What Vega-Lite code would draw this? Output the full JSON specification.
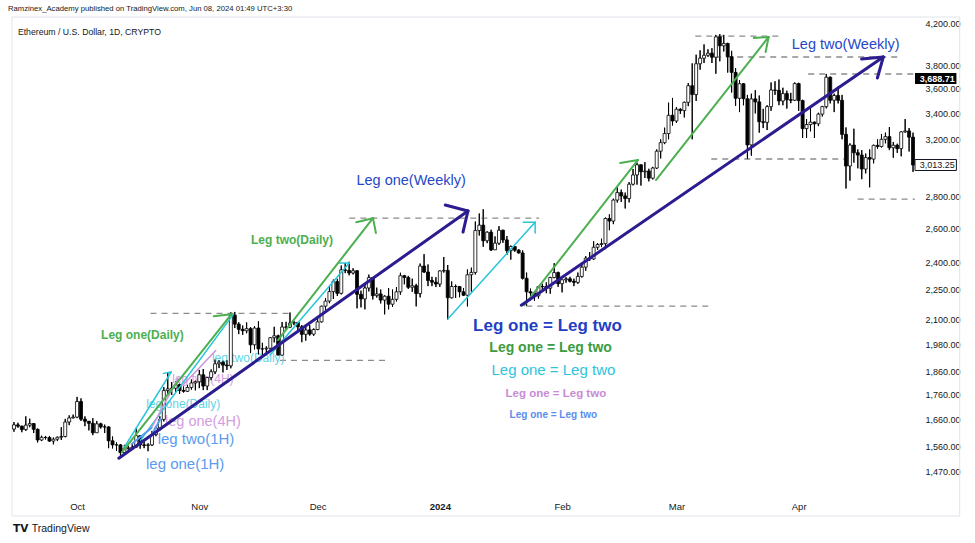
{
  "$schema": "https://vega.github.io/schema/vega-lite/v6.json",
  "width": 913,
  "height": 472,
  "autosize": "none",
  "padding": {"left": 7, "top": 20, "right": 55, "bottom": 51},
  "background": "#ffffff",
  "title": {
    "text": "Ramzinex_Academy published on TradingView.com, Jun 08, 2024 01:49 UTC+3:30",
    "anchor": "start",
    "frame": "group",
    "font": "Liberation Sans",
    "fontSize": 7.7,
    "fontWeight": "normal",
    "color": "#131722",
    "offset": 4,
    "dx": 1
  },
  "datasets": {
    "candles": [
      {"d": "2023-09-15", "o": 1625, "h": 1652, "l": 1615, "c": 1641},
      {"d": "2023-09-16", "o": 1641, "h": 1649, "l": 1630, "c": 1636},
      {"d": "2023-09-17", "o": 1636, "h": 1638, "l": 1613, "c": 1623},
      {"d": "2023-09-18", "o": 1623, "h": 1674, "l": 1618, "c": 1640},
      {"d": "2023-09-19", "o": 1640, "h": 1665, "l": 1632, "c": 1646},
      {"d": "2023-09-20", "o": 1646, "h": 1648, "l": 1610, "c": 1624},
      {"d": "2023-09-21", "o": 1624, "h": 1627, "l": 1575, "c": 1584},
      {"d": "2023-09-22", "o": 1584, "h": 1600, "l": 1580, "c": 1594},
      {"d": "2023-09-23", "o": 1594, "h": 1599, "l": 1586, "c": 1593},
      {"d": "2023-09-24", "o": 1593, "h": 1599, "l": 1577, "c": 1580},
      {"d": "2023-09-25", "o": 1580, "h": 1593, "l": 1568, "c": 1587},
      {"d": "2023-09-26", "o": 1587, "h": 1597, "l": 1580, "c": 1594},
      {"d": "2023-09-27", "o": 1594, "h": 1632, "l": 1584, "c": 1597},
      {"d": "2023-09-28", "o": 1597, "h": 1664, "l": 1594, "c": 1652},
      {"d": "2023-09-29", "o": 1652, "h": 1678, "l": 1640, "c": 1668},
      {"d": "2023-09-30", "o": 1668, "h": 1681, "l": 1666, "c": 1671},
      {"d": "2023-10-01", "o": 1671, "h": 1752, "l": 1667, "c": 1733},
      {"d": "2023-10-02", "o": 1733, "h": 1746, "l": 1656, "c": 1663},
      {"d": "2023-10-03", "o": 1663, "h": 1674, "l": 1636, "c": 1655},
      {"d": "2023-10-04", "o": 1655, "h": 1656, "l": 1620, "c": 1647},
      {"d": "2023-10-05", "o": 1647, "h": 1667, "l": 1602, "c": 1611},
      {"d": "2023-10-06", "o": 1611, "h": 1656, "l": 1611, "c": 1645},
      {"d": "2023-10-07", "o": 1645, "h": 1649, "l": 1627, "c": 1633},
      {"d": "2023-10-08", "o": 1633, "h": 1642, "l": 1610, "c": 1633},
      {"d": "2023-10-09", "o": 1633, "h": 1636, "l": 1554, "c": 1581},
      {"d": "2023-10-10", "o": 1581, "h": 1597, "l": 1553, "c": 1566},
      {"d": "2023-10-11", "o": 1566, "h": 1575, "l": 1544, "c": 1566},
      {"d": "2023-10-12", "o": 1566, "h": 1569, "l": 1521, "c": 1538},
      {"d": "2023-10-13", "o": 1538, "h": 1566, "l": 1534, "c": 1553},
      {"d": "2023-10-14", "o": 1553, "h": 1563, "l": 1546, "c": 1555},
      {"d": "2023-10-15", "o": 1555, "h": 1569, "l": 1549, "c": 1558},
      {"d": "2023-10-16", "o": 1558, "h": 1630, "l": 1556, "c": 1600},
      {"d": "2023-10-17", "o": 1600, "h": 1601, "l": 1552, "c": 1566},
      {"d": "2023-10-18", "o": 1566, "h": 1585, "l": 1554, "c": 1564},
      {"d": "2023-10-19", "o": 1564, "h": 1572, "l": 1543, "c": 1566},
      {"d": "2023-10-20", "o": 1566, "h": 1618, "l": 1562, "c": 1604},
      {"d": "2023-10-21", "o": 1604, "h": 1636, "l": 1598, "c": 1629},
      {"d": "2023-10-22", "o": 1629, "h": 1674, "l": 1620, "c": 1662},
      {"d": "2023-10-23", "o": 1662, "h": 1792, "l": 1654, "c": 1778},
      {"d": "2023-10-24", "o": 1778, "h": 1856, "l": 1765, "c": 1785},
      {"d": "2023-10-25", "o": 1785, "h": 1814, "l": 1760, "c": 1788},
      {"d": "2023-10-26", "o": 1788, "h": 1818, "l": 1770, "c": 1803},
      {"d": "2023-10-27", "o": 1803, "h": 1807, "l": 1764, "c": 1779},
      {"d": "2023-10-28", "o": 1779, "h": 1795, "l": 1770, "c": 1775},
      {"d": "2023-10-29", "o": 1775, "h": 1802, "l": 1773, "c": 1791},
      {"d": "2023-10-30", "o": 1791, "h": 1825, "l": 1782, "c": 1810},
      {"d": "2023-10-31", "o": 1810, "h": 1820, "l": 1779, "c": 1815},
      {"d": "2023-11-01", "o": 1815, "h": 1866, "l": 1788, "c": 1845},
      {"d": "2023-11-02", "o": 1845, "h": 1870, "l": 1780, "c": 1797},
      {"d": "2023-11-03", "o": 1797, "h": 1834, "l": 1780, "c": 1833},
      {"d": "2023-11-04", "o": 1833, "h": 1868, "l": 1822, "c": 1858},
      {"d": "2023-11-05", "o": 1858, "h": 1912, "l": 1848, "c": 1893},
      {"d": "2023-11-06", "o": 1893, "h": 1910, "l": 1874, "c": 1900},
      {"d": "2023-11-07", "o": 1900, "h": 1907, "l": 1855, "c": 1887},
      {"d": "2023-11-08", "o": 1887, "h": 1909, "l": 1866, "c": 1884},
      {"d": "2023-11-09", "o": 1884, "h": 2135, "l": 1873, "c": 2121},
      {"d": "2023-11-10", "o": 2121, "h": 2137, "l": 2058, "c": 2077},
      {"d": "2023-11-11", "o": 2077, "h": 2086, "l": 2029, "c": 2052},
      {"d": "2023-11-12", "o": 2052, "h": 2070, "l": 2025, "c": 2045},
      {"d": "2023-11-13", "o": 2045, "h": 2085, "l": 2033, "c": 2055},
      {"d": "2023-11-14", "o": 2055, "h": 2063, "l": 1941, "c": 1979},
      {"d": "2023-11-15", "o": 1979, "h": 2067, "l": 1958, "c": 2058},
      {"d": "2023-11-16", "o": 2058, "h": 2091, "l": 1935, "c": 1960},
      {"d": "2023-11-17", "o": 1960, "h": 1988, "l": 1932, "c": 1960},
      {"d": "2023-11-18", "o": 1960, "h": 1972, "l": 1935, "c": 1963},
      {"d": "2023-11-19", "o": 1963, "h": 2015, "l": 1946, "c": 2012},
      {"d": "2023-11-20", "o": 2012, "h": 2064, "l": 1990, "c": 2021},
      {"d": "2023-11-21", "o": 2021, "h": 2026, "l": 1931, "c": 1932},
      {"d": "2023-11-22", "o": 1932, "h": 2087, "l": 1930, "c": 2063},
      {"d": "2023-11-23", "o": 2063, "h": 2088, "l": 2050, "c": 2062},
      {"d": "2023-11-24", "o": 2062, "h": 2134, "l": 2058, "c": 2082},
      {"d": "2023-11-25", "o": 2082, "h": 2093, "l": 2072, "c": 2085},
      {"d": "2023-11-26", "o": 2085, "h": 2087, "l": 2040, "c": 2064},
      {"d": "2023-11-27", "o": 2064, "h": 2072, "l": 1991, "c": 2028},
      {"d": "2023-11-28", "o": 2028, "h": 2066, "l": 1998, "c": 2049},
      {"d": "2023-11-29", "o": 2049, "h": 2072, "l": 2022, "c": 2029},
      {"d": "2023-11-30", "o": 2029, "h": 2056, "l": 2021, "c": 2051},
      {"d": "2023-12-01", "o": 2051, "h": 2105, "l": 2048, "c": 2088},
      {"d": "2023-12-02", "o": 2088, "h": 2168, "l": 2085, "c": 2166},
      {"d": "2023-12-03", "o": 2166, "h": 2208, "l": 2148, "c": 2192},
      {"d": "2023-12-04", "o": 2192, "h": 2273, "l": 2181, "c": 2241},
      {"d": "2023-12-05", "o": 2241, "h": 2305, "l": 2203, "c": 2294},
      {"d": "2023-12-06", "o": 2294, "h": 2309, "l": 2218, "c": 2232},
      {"d": "2023-12-07", "o": 2232, "h": 2382, "l": 2226, "c": 2358},
      {"d": "2023-12-08", "o": 2358, "h": 2396, "l": 2340, "c": 2355},
      {"d": "2023-12-09", "o": 2355, "h": 2403, "l": 2328, "c": 2341},
      {"d": "2023-12-10", "o": 2341, "h": 2367, "l": 2333, "c": 2353},
      {"d": "2023-12-11", "o": 2353, "h": 2356, "l": 2155, "c": 2227},
      {"d": "2023-12-12", "o": 2227, "h": 2246, "l": 2160, "c": 2203},
      {"d": "2023-12-13", "o": 2203, "h": 2281, "l": 2150, "c": 2260},
      {"d": "2023-12-14", "o": 2260, "h": 2332, "l": 2242, "c": 2316},
      {"d": "2023-12-15", "o": 2316, "h": 2318, "l": 2200, "c": 2220},
      {"d": "2023-12-16", "o": 2220, "h": 2262, "l": 2210, "c": 2229},
      {"d": "2023-12-17", "o": 2229, "h": 2252, "l": 2180, "c": 2197},
      {"d": "2023-12-18", "o": 2197, "h": 2222, "l": 2125, "c": 2217},
      {"d": "2023-12-19", "o": 2217, "h": 2260, "l": 2150, "c": 2176},
      {"d": "2023-12-20", "o": 2176, "h": 2252, "l": 2162, "c": 2201},
      {"d": "2023-12-21", "o": 2201, "h": 2265, "l": 2190, "c": 2240},
      {"d": "2023-12-22", "o": 2240, "h": 2342, "l": 2225, "c": 2326},
      {"d": "2023-12-23", "o": 2326, "h": 2330, "l": 2280, "c": 2316},
      {"d": "2023-12-24", "o": 2316, "h": 2325, "l": 2255, "c": 2264},
      {"d": "2023-12-25", "o": 2264, "h": 2310, "l": 2240, "c": 2272},
      {"d": "2023-12-26", "o": 2272, "h": 2282, "l": 2165, "c": 2231},
      {"d": "2023-12-27", "o": 2231, "h": 2393, "l": 2211, "c": 2379},
      {"d": "2023-12-28", "o": 2379, "h": 2446, "l": 2341, "c": 2346},
      {"d": "2023-12-29", "o": 2346, "h": 2388, "l": 2270, "c": 2300},
      {"d": "2023-12-30", "o": 2300, "h": 2320, "l": 2270, "c": 2291},
      {"d": "2023-12-31", "o": 2291, "h": 2318, "l": 2265, "c": 2281},
      {"d": "2024-01-01", "o": 2281, "h": 2355, "l": 2266, "c": 2352},
      {"d": "2024-01-02", "o": 2352, "h": 2430, "l": 2343, "c": 2355},
      {"d": "2024-01-03", "o": 2355, "h": 2385, "l": 2100, "c": 2209},
      {"d": "2024-01-04", "o": 2209, "h": 2295, "l": 2206, "c": 2268},
      {"d": "2024-01-05", "o": 2268, "h": 2278, "l": 2208, "c": 2268},
      {"d": "2024-01-06", "o": 2268, "h": 2270, "l": 2212, "c": 2240},
      {"d": "2024-01-07", "o": 2240, "h": 2260, "l": 2218, "c": 2222},
      {"d": "2024-01-08", "o": 2222, "h": 2360, "l": 2165, "c": 2331},
      {"d": "2024-01-09", "o": 2331, "h": 2370, "l": 2240, "c": 2344},
      {"d": "2024-01-10", "o": 2344, "h": 2640, "l": 2333, "c": 2585},
      {"d": "2024-01-11", "o": 2585, "h": 2690, "l": 2555, "c": 2618},
      {"d": "2024-01-12", "o": 2618, "h": 2717, "l": 2489, "c": 2524},
      {"d": "2024-01-13", "o": 2524, "h": 2580, "l": 2510, "c": 2575},
      {"d": "2024-01-14", "o": 2575, "h": 2590, "l": 2464, "c": 2471},
      {"d": "2024-01-15", "o": 2471, "h": 2550, "l": 2470, "c": 2510},
      {"d": "2024-01-16", "o": 2510, "h": 2612, "l": 2500, "c": 2587},
      {"d": "2024-01-17", "o": 2587, "h": 2590, "l": 2512, "c": 2529},
      {"d": "2024-01-18", "o": 2529, "h": 2552, "l": 2442, "c": 2467},
      {"d": "2024-01-19", "o": 2467, "h": 2496, "l": 2415, "c": 2490},
      {"d": "2024-01-20", "o": 2490, "h": 2492, "l": 2460, "c": 2469},
      {"d": "2024-01-21", "o": 2469, "h": 2475, "l": 2450, "c": 2453},
      {"d": "2024-01-22", "o": 2453, "h": 2468, "l": 2306, "c": 2312},
      {"d": "2024-01-23", "o": 2312, "h": 2343, "l": 2168, "c": 2240},
      {"d": "2024-01-24", "o": 2240, "h": 2257, "l": 2196, "c": 2234},
      {"d": "2024-01-25", "o": 2234, "h": 2240, "l": 2194, "c": 2219},
      {"d": "2024-01-26", "o": 2219, "h": 2271, "l": 2205, "c": 2267},
      {"d": "2024-01-27", "o": 2267, "h": 2282, "l": 2249, "c": 2268},
      {"d": "2024-01-28", "o": 2268, "h": 2290, "l": 2233, "c": 2259},
      {"d": "2024-01-29", "o": 2259, "h": 2320, "l": 2230, "c": 2316},
      {"d": "2024-01-30", "o": 2316, "h": 2395, "l": 2312, "c": 2343},
      {"d": "2024-01-31", "o": 2343, "h": 2348, "l": 2266, "c": 2283},
      {"d": "2024-02-01", "o": 2283, "h": 2305, "l": 2237, "c": 2304},
      {"d": "2024-02-02", "o": 2304, "h": 2318, "l": 2288, "c": 2309},
      {"d": "2024-02-03", "o": 2309, "h": 2320, "l": 2290, "c": 2296},
      {"d": "2024-02-04", "o": 2296, "h": 2310, "l": 2270, "c": 2290},
      {"d": "2024-02-05", "o": 2290, "h": 2343, "l": 2282, "c": 2322},
      {"d": "2024-02-06", "o": 2322, "h": 2398, "l": 2316, "c": 2373},
      {"d": "2024-02-07", "o": 2373, "h": 2435, "l": 2353, "c": 2424},
      {"d": "2024-02-08", "o": 2424, "h": 2458, "l": 2408, "c": 2419},
      {"d": "2024-02-09", "o": 2419, "h": 2521, "l": 2414, "c": 2486},
      {"d": "2024-02-10", "o": 2486, "h": 2510, "l": 2470, "c": 2502},
      {"d": "2024-02-11", "o": 2502, "h": 2536, "l": 2487, "c": 2507},
      {"d": "2024-02-12", "o": 2507, "h": 2665, "l": 2475, "c": 2659},
      {"d": "2024-02-13", "o": 2659, "h": 2685, "l": 2587, "c": 2643},
      {"d": "2024-02-14", "o": 2643, "h": 2785, "l": 2624, "c": 2776},
      {"d": "2024-02-15", "o": 2776, "h": 2865, "l": 2760, "c": 2825},
      {"d": "2024-02-16", "o": 2825, "h": 2845, "l": 2764, "c": 2803},
      {"d": "2024-02-17", "o": 2803, "h": 2825, "l": 2722, "c": 2786},
      {"d": "2024-02-18", "o": 2786, "h": 2895, "l": 2761, "c": 2881},
      {"d": "2024-02-19", "o": 2881, "h": 2985, "l": 2873, "c": 2944},
      {"d": "2024-02-20", "o": 2944, "h": 3030, "l": 2878, "c": 3015},
      {"d": "2024-02-21", "o": 3015, "h": 3016, "l": 2872, "c": 2966},
      {"d": "2024-02-22", "o": 2966, "h": 3034, "l": 2923, "c": 2971},
      {"d": "2024-02-23", "o": 2971, "h": 2987, "l": 2900, "c": 2922},
      {"d": "2024-02-24", "o": 2922, "h": 3000, "l": 2913, "c": 2992},
      {"d": "2024-02-25", "o": 2992, "h": 3125, "l": 2985, "c": 3112},
      {"d": "2024-02-26", "o": 3112, "h": 3200, "l": 3060, "c": 3175},
      {"d": "2024-02-27", "o": 3175, "h": 3288, "l": 3164, "c": 3243},
      {"d": "2024-02-28", "o": 3243, "h": 3486, "l": 3200, "c": 3385},
      {"d": "2024-02-29", "o": 3385, "h": 3525, "l": 3305, "c": 3340},
      {"d": "2024-03-01", "o": 3340, "h": 3450, "l": 3325, "c": 3433},
      {"d": "2024-03-02", "o": 3433, "h": 3440, "l": 3395, "c": 3422},
      {"d": "2024-03-03", "o": 3422, "h": 3495, "l": 3368, "c": 3489},
      {"d": "2024-03-04", "o": 3489, "h": 3650, "l": 3458, "c": 3627},
      {"d": "2024-03-05", "o": 3627, "h": 3822, "l": 3200, "c": 3553},
      {"d": "2024-03-06", "o": 3553, "h": 3900, "l": 3500, "c": 3818},
      {"d": "2024-03-07", "o": 3818, "h": 3940, "l": 3765, "c": 3868},
      {"d": "2024-03-08", "o": 3868, "h": 3995, "l": 3825, "c": 3895},
      {"d": "2024-03-09", "o": 3895, "h": 3950, "l": 3880, "c": 3914},
      {"d": "2024-03-10", "o": 3914, "h": 3960, "l": 3825, "c": 3877},
      {"d": "2024-03-11", "o": 3877, "h": 4085, "l": 3730, "c": 4066},
      {"d": "2024-03-12", "o": 4066, "h": 4093, "l": 3840, "c": 3982},
      {"d": "2024-03-13", "o": 3982, "h": 4085, "l": 3930, "c": 4004},
      {"d": "2024-03-14", "o": 4004, "h": 4010, "l": 3740, "c": 3882},
      {"d": "2024-03-15", "o": 3882, "h": 3935, "l": 3570, "c": 3742},
      {"d": "2024-03-16", "o": 3742, "h": 3780, "l": 3460, "c": 3522},
      {"d": "2024-03-17", "o": 3522, "h": 3675, "l": 3410, "c": 3644},
      {"d": "2024-03-18", "o": 3644, "h": 3650, "l": 3465, "c": 3518},
      {"d": "2024-03-19", "o": 3518, "h": 3550, "l": 3056, "c": 3158},
      {"d": "2024-03-20", "o": 3158, "h": 3560, "l": 3080, "c": 3517},
      {"d": "2024-03-21", "o": 3517, "h": 3590, "l": 3400, "c": 3492},
      {"d": "2024-03-22", "o": 3492, "h": 3545, "l": 3250, "c": 3334},
      {"d": "2024-03-23", "o": 3334, "h": 3436, "l": 3285, "c": 3329},
      {"d": "2024-03-24", "o": 3329, "h": 3465, "l": 3270, "c": 3454},
      {"d": "2024-03-25", "o": 3454, "h": 3655, "l": 3420, "c": 3591},
      {"d": "2024-03-26", "o": 3591, "h": 3665, "l": 3550, "c": 3588},
      {"d": "2024-03-27", "o": 3588, "h": 3680, "l": 3466, "c": 3500},
      {"d": "2024-03-28", "o": 3500, "h": 3610, "l": 3465, "c": 3561},
      {"d": "2024-03-29", "o": 3561, "h": 3585, "l": 3438, "c": 3510},
      {"d": "2024-03-30", "o": 3510, "h": 3567, "l": 3482, "c": 3506},
      {"d": "2024-03-31", "o": 3506, "h": 3655, "l": 3500, "c": 3645},
      {"d": "2024-04-01", "o": 3645, "h": 3652, "l": 3420, "c": 3503},
      {"d": "2024-04-02", "o": 3503, "h": 3510, "l": 3210, "c": 3281},
      {"d": "2024-04-03", "o": 3281, "h": 3355, "l": 3210, "c": 3312},
      {"d": "2024-04-04", "o": 3312, "h": 3440, "l": 3260, "c": 3331},
      {"d": "2024-04-05", "o": 3331, "h": 3335, "l": 3210, "c": 3318},
      {"d": "2024-04-06", "o": 3318, "h": 3405, "l": 3300, "c": 3394},
      {"d": "2024-04-07", "o": 3394, "h": 3460, "l": 3375, "c": 3454},
      {"d": "2024-04-08", "o": 3454, "h": 3728, "l": 3440, "c": 3700},
      {"d": "2024-04-09", "o": 3700, "h": 3705, "l": 3480, "c": 3506},
      {"d": "2024-04-10", "o": 3506, "h": 3560, "l": 3410, "c": 3545},
      {"d": "2024-04-11", "o": 3545, "h": 3620, "l": 3480, "c": 3505},
      {"d": "2024-04-12", "o": 3505, "h": 3550, "l": 3200, "c": 3237},
      {"d": "2024-04-13", "o": 3237, "h": 3290, "l": 2852, "c": 3006},
      {"d": "2024-04-14", "o": 3006, "h": 3170, "l": 2905, "c": 3157},
      {"d": "2024-04-15", "o": 3157, "h": 3280, "l": 3030, "c": 3101},
      {"d": "2024-04-16", "o": 3101, "h": 3125, "l": 2990, "c": 3084},
      {"d": "2024-04-17", "o": 3084, "h": 3120, "l": 2915, "c": 2985},
      {"d": "2024-04-18", "o": 2985, "h": 3095, "l": 2955, "c": 3066},
      {"d": "2024-04-19", "o": 3066, "h": 3125, "l": 2860, "c": 3055},
      {"d": "2024-04-20", "o": 3055, "h": 3160, "l": 3025, "c": 3155},
      {"d": "2024-04-21", "o": 3155, "h": 3200, "l": 3130, "c": 3146},
      {"d": "2024-04-22", "o": 3146, "h": 3240, "l": 3140, "c": 3200},
      {"d": "2024-04-23", "o": 3200, "h": 3250, "l": 3170, "c": 3220},
      {"d": "2024-04-24", "o": 3220, "h": 3293, "l": 3120, "c": 3137},
      {"d": "2024-04-25", "o": 3137, "h": 3180, "l": 3065, "c": 3156},
      {"d": "2024-04-26", "o": 3156, "h": 3167, "l": 3100, "c": 3131},
      {"d": "2024-04-27", "o": 3131, "h": 3260, "l": 3075, "c": 3256},
      {"d": "2024-04-28", "o": 3256, "h": 3355, "l": 3250, "c": 3263},
      {"d": "2024-04-29", "o": 3263, "h": 3285, "l": 3110, "c": 3216},
      {"d": "2024-04-30", "o": 3216, "h": 3250, "l": 2965, "c": 3013.25}
    ],
    "levels": [
      {"t1": "2023-10-19T15:00:00Z", "t2": "2023-11-24T00:00:00Z", "p": 2130},
      {"t1": "2023-11-21T11:00:00Z", "t2": "2023-12-19T01:00:00Z", "p": 1908},
      {"t1": "2023-12-09T01:00:00Z", "t2": "2024-01-26T04:00:00Z", "p": 2661},
      {"t1": "2024-01-22T22:00:00Z", "t2": "2024-03-10T08:00:00Z", "p": 2166},
      {"t1": "2024-03-05T19:00:00Z", "t2": "2024-03-27T15:00:00Z", "p": 4074},
      {"t1": "2024-03-10T20:00:00Z", "t2": "2024-04-26T18:00:00Z", "p": 3879},
      {"t1": "2024-04-03T10:00:00Z", "t2": "2024-04-30T12:00:00Z", "p": 3728},
      {"t1": "2024-03-09T20:00:00Z", "t2": "2024-04-12T23:00:00Z", "p": 3056},
      {"t1": "2024-04-15T23:00:00Z", "t2": "2024-04-30T12:00:00Z", "p": 2782}
    ],
    "weekly": [
      {"t1": "2023-10-11T14:00:00Z", "p1": 1518, "t2": "2024-01-08T03:00:00Z", "p2": 2706},
      {"t1": "2024-01-08T03:00:00Z", "p1": 2706, "t2": "2024-01-02T09:00:00Z", "p2": 2744},
      {"t1": "2024-01-08T03:00:00Z", "p1": 2706, "t2": "2024-01-06T21:00:00Z", "p2": 2576},
      {"t1": "2024-01-21T16:00:00Z", "p1": 2171, "t2": "2024-04-22T11:00:00Z", "p2": 3879},
      {"t1": "2024-04-22T11:00:00Z", "p1": 3879, "t2": "2024-04-16T23:00:00Z", "p2": 3861},
      {"t1": "2024-04-22T11:00:00Z", "p1": 3879, "t2": "2024-04-20T23:00:00Z", "p2": 3693}
    ],
    "daily": [
      {"t1": "2023-10-12T08:00:00Z", "p1": 1539, "t2": "2023-11-09T04:00:00Z", "p2": 2126},
      {"t1": "2023-11-09T04:00:00Z", "p1": 2126, "t2": "2023-11-04T16:00:00Z", "p2": 2116},
      {"t1": "2023-11-20T23:00:00Z", "p1": 2001, "t2": "2023-12-15T01:00:00Z", "p2": 2661},
      {"t1": "2023-12-15T01:00:00Z", "p1": 2661, "t2": "2023-12-10T19:00:00Z", "p2": 2636},
      {"t1": "2023-12-15T01:00:00Z", "p1": 2661, "t2": "2023-12-15T19:00:00Z", "p2": 2570},
      {"t1": "2024-01-22T10:00:00Z", "p1": 2171, "t2": "2024-02-20T06:00:00Z", "p2": 3049},
      {"t1": "2024-02-20T06:00:00Z", "p1": 3049, "t2": "2024-02-15T18:00:00Z", "p2": 3027},
      {"t1": "2024-02-24T19:00:00Z", "p1": 2909, "t2": "2024-03-24T09:00:00Z", "p2": 4065},
      {"t1": "2024-03-24T09:00:00Z", "p1": 4065, "t2": "2024-03-20T15:00:00Z", "p2": 4055},
      {"t1": "2024-03-24T09:00:00Z", "p1": 4065, "t2": "2024-03-23T15:00:00Z", "p2": 3925}
    ],
    "cyan": [
      {"t1": "2023-10-12T20:00:00Z", "p1": 1554, "t2": "2023-10-24T21:00:00Z", "p2": 1857},
      {"t1": "2023-10-24T21:00:00Z", "p1": 1857, "t2": "2023-10-22T21:00:00Z", "p2": 1851},
      {"t1": "2023-10-17T02:00:00Z", "p1": 1583, "t2": "2023-11-09T16:00:00Z", "p2": 2126},
      {"t1": "2023-11-18T23:00:00Z", "p1": 1932, "t2": "2023-12-09T01:00:00Z", "p2": 2396},
      {"t1": "2023-12-09T01:00:00Z", "p1": 2396, "t2": "2023-12-06T12:00:00Z", "p2": 2396},
      {"t1": "2024-01-03T03:00:00Z", "p1": 2105, "t2": "2024-01-25T04:00:00Z", "p2": 2636},
      {"t1": "2024-01-25T04:00:00Z", "p1": 2636, "t2": "2024-01-22T04:00:00Z", "p2": 2636},
      {"t1": "2024-01-25T04:00:00Z", "p1": 2636, "t2": "2024-01-25T04:00:00Z", "p2": 2570}
    ],
    "h4": [
      {"t1": "2023-10-19T21:00:00Z", "p1": 1629, "t2": "2023-10-26T15:00:00Z", "p2": 1831},
      {"t1": "2023-10-27T21:00:00Z", "p1": 1801, "t2": "2023-11-05T04:00:00Z", "p2": 1953}
    ],
    "h1": [
      {"t1": "2023-10-14T20:00:00Z", "p1": 1569, "t2": "2023-10-19T21:00:00Z", "p2": 1629},
      {"t1": "2023-10-19T15:00:00Z", "p1": 1595, "t2": "2023-10-22T03:00:00Z", "p2": 1664}
    ]
  },
  "layer": [
    {
      "data": {"name": "candles"},
      "mark": {"type": "rule", "color": "#000000", "strokeWidth": 1},
      "encoding": {
        "x": {"field": "d", "type": "temporal", "title": null, "axis": {
          "values": [
            {"year": 2023, "month": 10, "date": 1, "utc": true},
            {"year": 2023, "month": 11, "date": 1, "utc": true},
            {"year": 2023, "month": 12, "date": 1, "utc": true},
            {"year": 2024, "month": 1, "date": 1, "utc": true},
            {"year": 2024, "month": 2, "date": 1, "utc": true},
            {"year": 2024, "month": 3, "date": 1, "utc": true},
            {"year": 2024, "month": 4, "date": 1, "utc": true}
          ],
          "labelExpr": "utcFormat(datum.value, '%m') == '01' ? utcFormat(datum.value, '%Y') : utcFormat(datum.value, '%b')",
          "labelFontWeight": {"condition": {"test": "utcFormat(datum.value, '%m') == '01'", "value": "bold"}, "value": "normal"},
          "title": null, "domain": false, "ticks": false, "grid": false,
          "labelPadding": 9, "labelFont": "Liberation Sans", "labelFontSize": 9.5, "labelColor": "#131722"
        },
          "scale": {"type": "utc", "domain": [{"year": 2023, "month": 9, "date": 14, "hours": 12, "utc": true}, {"year": 2024, "month": 4, "date": 30, "hours": 12, "utc": true}]}},
        "y": {"field": "l", "type": "quantitative", "title": null, "axis": {
          "orient": "right",
          "values": [1470, 1560, 1660, 1760, 1860, 1980, 2100, 2250, 2400, 2600, 2800, 3200, 3400, 3600, 3800, 4200],
          "format": ",.2f", "title": null, "domain": false, "ticks": false, "grid": false,
          "labelOverlap": false, "labelPadding": 5, "labelFont": "Liberation Sans", "labelFontSize": 9, "labelColor": "#131722"
        },
          "scale": {"type": "log", "domain": [1402.6, 4229.6], "nice": false}},
        "y2": {"field": "h"}
      }
    },
    {
      "data": {"values": [{"t1": "2023-09-14T12:00:00Z", "t2": "2024-05-11T20:00:00Z", "p1": 4259, "p2": 1326}]},
      "mark": {"type": "rect", "filled": false, "stroke": "#e0e3eb", "strokeWidth": 1},
      "encoding": {
        "x": {"field": "t1", "type": "temporal", "title": null, "scale": {"type": "utc", "domain": [{"year": 2023, "month": 9, "date": 14, "hours": 12, "utc": true}, {"year": 2024, "month": 4, "date": 30, "hours": 12, "utc": true}]}},
        "x2": {"field": "t2"},
        "y": {"field": "p1", "type": "quantitative", "title": null, "scale": {"type": "log", "domain": [1402.6, 4229.6], "nice": false}},
        "y2": {"field": "p2"}
      }
    },
    {
      "data": {"name": "levels"},
      "mark": {"type": "rule", "color": "#8c8c8c", "strokeWidth": 1.3, "strokeDash": [6, 5]},
      "encoding": {
        "x": {"field": "t1", "type": "temporal", "title": null, "scale": {"type": "utc", "domain": [{"year": 2023, "month": 9, "date": 14, "hours": 12, "utc": true}, {"year": 2024, "month": 4, "date": 30, "hours": 12, "utc": true}]}},
        "x2": {"field": "t2"},
        "y": {"field": "p", "type": "quantitative", "title": null, "scale": {"type": "log", "domain": [1402.6, 4229.6], "nice": false}}
      }
    },
    {
      "data": {"values": [
        {"t": "2023-10-27T22:00:00Z", "p": 1724, "label": "leg one(Daily)"},
        {"t": "2023-11-13T10:00:00Z", "p": 1920, "label": "leg two(Daily)"}
      ]},
      "mark": {"type": "text", "font": "Liberation Sans", "fontSize": 12, "color": "#5fd3e3", "align": "center", "baseline": "middle"},
      "encoding": {
        "x": {"field": "t", "type": "temporal", "title": null, "scale": {"type": "utc", "domain": [{"year": 2023, "month": 9, "date": 14, "hours": 12, "utc": true}, {"year": 2024, "month": 4, "date": 30, "hours": 12, "utc": true}]}},
        "y": {"field": "p", "type": "quantitative", "title": null, "scale": {"type": "log", "domain": [1402.6, 4229.6], "nice": false}},
        "text": {"field": "label"}
      }
    },
    {
      "data": {"values": [
        {"t": "2023-11-01T22:00:00Z", "p": 1825, "label": "leg two(4H)"}
      ]},
      "mark": {"type": "text", "font": "Liberation Sans", "fontSize": 12, "color": "#d39de0", "align": "center", "baseline": "middle"},
      "encoding": {
        "x": {"field": "t", "type": "temporal", "title": null, "scale": {"type": "utc", "domain": [{"year": 2023, "month": 9, "date": 14, "hours": 12, "utc": true}, {"year": 2024, "month": 4, "date": 30, "hours": 12, "utc": true}]}},
        "y": {"field": "p", "type": "quantitative", "title": null, "scale": {"type": "log", "domain": [1402.6, 4229.6], "nice": false}},
        "text": {"field": "label"}
      }
    },
    {
      "data": {"values": [
        {"t": "2023-11-01T22:00:00Z", "p": 1652, "label": "leg one(4H)"}
      ]},
      "mark": {"type": "text", "font": "Liberation Sans", "fontSize": 14.5, "color": "#d39de0", "align": "center", "baseline": "middle"},
      "encoding": {
        "x": {"field": "t", "type": "temporal", "title": null, "scale": {"type": "utc", "domain": [{"year": 2023, "month": 9, "date": 14, "hours": 12, "utc": true}, {"year": 2024, "month": 4, "date": 30, "hours": 12, "utc": true}]}},
        "y": {"field": "p", "type": "quantitative", "title": null, "scale": {"type": "log", "domain": [1402.6, 4229.6], "nice": false}},
        "text": {"field": "label"}
      }
    },
    {
      "data": {"name": "candles"},
      "mark": {"type": "rule", "color": "#000000", "strokeWidth": 1},
      "encoding": {
        "x": {"field": "d", "type": "temporal", "title": null, "scale": {"type": "utc", "domain": [{"year": 2023, "month": 9, "date": 14, "hours": 12, "utc": true}, {"year": 2024, "month": 4, "date": 30, "hours": 12, "utc": true}]}},
        "y": {"field": "l", "type": "quantitative", "title": null, "scale": {"type": "log", "domain": [1402.6, 4229.6], "nice": false}},
        "y2": {"field": "h"}
      }
    },
    {
      "data": {"name": "candles"},
      "mark": {"type": "bar", "size": 3, "stroke": "#000000", "strokeWidth": 0.8},
      "encoding": {
        "x": {"field": "d", "type": "temporal", "title": null, "scale": {"type": "utc", "domain": [{"year": 2023, "month": 9, "date": 14, "hours": 12, "utc": true}, {"year": 2024, "month": 4, "date": 30, "hours": 12, "utc": true}]}},
        "y": {"field": "o", "type": "quantitative", "title": null, "scale": {"type": "log", "domain": [1402.6, 4229.6], "nice": false}},
        "y2": {"field": "c"},
        "fill": {"condition": {"test": "datum.c >= datum.o", "value": "#ffffff"}, "value": "#000000"}
      }
    },
    {
      "data": {"name": "cyan"},
      "mark": {"type": "rule", "color": "#26c6da", "strokeWidth": 1.5, "strokeCap": "round"},
      "encoding": {
        "x": {"field": "t1", "type": "temporal", "title": null, "scale": {"type": "utc", "domain": [{"year": 2023, "month": 9, "date": 14, "hours": 12, "utc": true}, {"year": 2024, "month": 4, "date": 30, "hours": 12, "utc": true}]}},
        "x2": {"field": "t2"},
        "y": {"field": "p1", "type": "quantitative", "title": null, "scale": {"type": "log", "domain": [1402.6, 4229.6], "nice": false}},
        "y2": {"field": "p2"}
      }
    },
    {
      "data": {"name": "h4"},
      "mark": {"type": "rule", "color": "#ce93d8", "strokeWidth": 1.5, "strokeCap": "round"},
      "encoding": {
        "x": {"field": "t1", "type": "temporal", "title": null, "scale": {"type": "utc", "domain": [{"year": 2023, "month": 9, "date": 14, "hours": 12, "utc": true}, {"year": 2024, "month": 4, "date": 30, "hours": 12, "utc": true}]}},
        "x2": {"field": "t2"},
        "y": {"field": "p1", "type": "quantitative", "title": null, "scale": {"type": "log", "domain": [1402.6, 4229.6], "nice": false}},
        "y2": {"field": "p2"}
      }
    },
    {
      "data": {"name": "h1"},
      "mark": {"type": "rule", "color": "#5b9bef", "strokeWidth": 2, "strokeCap": "round"},
      "encoding": {
        "x": {"field": "t1", "type": "temporal", "title": null, "scale": {"type": "utc", "domain": [{"year": 2023, "month": 9, "date": 14, "hours": 12, "utc": true}, {"year": 2024, "month": 4, "date": 30, "hours": 12, "utc": true}]}},
        "x2": {"field": "t2"},
        "y": {"field": "p1", "type": "quantitative", "title": null, "scale": {"type": "log", "domain": [1402.6, 4229.6], "nice": false}},
        "y2": {"field": "p2"}
      }
    },
    {
      "data": {"name": "daily"},
      "mark": {"type": "rule", "color": "#4caf50", "strokeWidth": 2, "strokeCap": "round"},
      "encoding": {
        "x": {"field": "t1", "type": "temporal", "title": null, "scale": {"type": "utc", "domain": [{"year": 2023, "month": 9, "date": 14, "hours": 12, "utc": true}, {"year": 2024, "month": 4, "date": 30, "hours": 12, "utc": true}]}},
        "x2": {"field": "t2"},
        "y": {"field": "p1", "type": "quantitative", "title": null, "scale": {"type": "log", "domain": [1402.6, 4229.6], "nice": false}},
        "y2": {"field": "p2"}
      }
    },
    {
      "data": {"name": "weekly"},
      "mark": {"type": "rule", "color": "#2b1c8f", "strokeWidth": 3, "strokeCap": "round"},
      "encoding": {
        "x": {"field": "t1", "type": "temporal", "title": null, "scale": {"type": "utc", "domain": [{"year": 2023, "month": 9, "date": 14, "hours": 12, "utc": true}, {"year": 2024, "month": 4, "date": 30, "hours": 12, "utc": true}]}},
        "x2": {"field": "t2"},
        "y": {"field": "p1", "type": "quantitative", "title": null, "scale": {"type": "log", "domain": [1402.6, 4229.6], "nice": false}},
        "y2": {"field": "p2"}
      }
    },
    {
      "data": {"values": [
        {"t": "2023-12-24T17:00:00Z", "p": 2902, "label": "Leg one(Weekly)"},
        {"t": "2024-04-12T22:00:00Z", "p": 3989, "label": "Leg two(Weekly)"}
      ]},
      "mark": {"type": "text", "font": "Liberation Sans", "fontSize": 14.5, "color": "#2648c8", "align": "center", "baseline": "middle"},
      "encoding": {
        "x": {"field": "t", "type": "temporal", "title": null, "scale": {"type": "utc", "domain": [{"year": 2023, "month": 9, "date": 14, "hours": 12, "utc": true}, {"year": 2024, "month": 4, "date": 30, "hours": 12, "utc": true}]}},
        "y": {"field": "p", "type": "quantitative", "title": null, "scale": {"type": "log", "domain": [1402.6, 4229.6], "nice": false}},
        "text": {"field": "label"}
      }
    },
    {
      "data": {"values": [
        {"t": "2023-11-24T12:00:00Z", "p": 2528, "label": "Leg two(Daily)"},
        {"t": "2023-10-17T14:00:00Z", "p": 2024, "label": "Leg one(Daily)"}
      ]},
      "mark": {"type": "text", "font": "Liberation Sans", "fontSize": 12, "fontWeight": "bold", "color": "#4caf50", "align": "center", "baseline": "middle"},
      "encoding": {
        "x": {"field": "t", "type": "temporal", "title": null, "scale": {"type": "utc", "domain": [{"year": 2023, "month": 9, "date": 14, "hours": 12, "utc": true}, {"year": 2024, "month": 4, "date": 30, "hours": 12, "utc": true}]}},
        "y": {"field": "p", "type": "quantitative", "title": null, "scale": {"type": "log", "domain": [1402.6, 4229.6], "nice": false}},
        "text": {"field": "label"}
      }
    },
    {
      "data": {"values": [
        {"t": "2023-10-28T10:00:00Z", "p": 1497, "label": "leg one(1H)"},
        {"t": "2023-10-31T04:00:00Z", "p": 1587, "label": "leg two(1H)"}
      ]},
      "mark": {"type": "text", "font": "Liberation Sans", "fontSize": 15, "color": "#5b9bef", "align": "center", "baseline": "middle"},
      "encoding": {
        "x": {"field": "t", "type": "temporal", "title": null, "scale": {"type": "utc", "domain": [{"year": 2023, "month": 9, "date": 14, "hours": 12, "utc": true}, {"year": 2024, "month": 4, "date": 30, "hours": 12, "utc": true}]}},
        "y": {"field": "p", "type": "quantitative", "title": null, "scale": {"type": "log", "domain": [1402.6, 4229.6], "nice": false}},
        "text": {"field": "label"}
      }
    },
    {
      "data": {"values": [{"t": "2024-01-28T07:00:00Z", "p": 2067, "label": "Leg one = Leg two"}]},
      "mark": {"type": "text", "font": "Liberation Sans", "fontSize": 17, "fontWeight": "bold", "color": "#1f3fc4", "align": "center", "baseline": "middle"},
      "encoding": {
        "x": {"field": "t", "type": "temporal", "title": null, "scale": {"type": "utc", "domain": [{"year": 2023, "month": 9, "date": 14, "hours": 12, "utc": true}, {"year": 2024, "month": 4, "date": 30, "hours": 12, "utc": true}]}},
        "y": {"field": "p", "type": "quantitative", "title": null, "scale": {"type": "log", "domain": [1402.6, 4229.6], "nice": false}},
        "text": {"field": "label"}
      }
    },
    {
      "data": {"values": [{"t": "2024-01-29T02:00:00Z", "p": 1962, "label": "Leg one = Leg two"}]},
      "mark": {"type": "text", "font": "Liberation Sans", "fontSize": 14, "fontWeight": "bold", "color": "#3d9c40", "align": "center", "baseline": "middle"},
      "encoding": {
        "x": {"field": "t", "type": "temporal", "title": null, "scale": {"type": "utc", "domain": [{"year": 2023, "month": 9, "date": 14, "hours": 12, "utc": true}, {"year": 2024, "month": 4, "date": 30, "hours": 12, "utc": true}]}},
        "y": {"field": "p", "type": "quantitative", "title": null, "scale": {"type": "log", "domain": [1402.6, 4229.6], "nice": false}},
        "text": {"field": "label"}
      }
    },
    {
      "data": {"values": [{"t": "2024-01-29T19:00:00Z", "p": 1864, "label": "Leg one = Leg two"}]},
      "mark": {"type": "text", "font": "Liberation Sans", "fontSize": 15, "color": "#2ec4dc", "align": "center", "baseline": "middle"},
      "encoding": {
        "x": {"field": "t", "type": "temporal", "title": null, "scale": {"type": "utc", "domain": [{"year": 2023, "month": 9, "date": 14, "hours": 12, "utc": true}, {"year": 2024, "month": 4, "date": 30, "hours": 12, "utc": true}]}},
        "y": {"field": "p", "type": "quantitative", "title": null, "scale": {"type": "log", "domain": [1402.6, 4229.6], "nice": false}},
        "text": {"field": "label"}
      }
    },
    {
      "data": {"values": [{"t": "2024-01-30T10:00:00Z", "p": 1762, "label": "Leg one = Leg two"}]},
      "mark": {"type": "text", "font": "Liberation Sans", "fontSize": 11.5, "fontWeight": "bold", "color": "#c98bd6", "align": "center", "baseline": "middle"},
      "encoding": {
        "x": {"field": "t", "type": "temporal", "title": null, "scale": {"type": "utc", "domain": [{"year": 2023, "month": 9, "date": 14, "hours": 12, "utc": true}, {"year": 2024, "month": 4, "date": 30, "hours": 12, "utc": true}]}},
        "y": {"field": "p", "type": "quantitative", "title": null, "scale": {"type": "log", "domain": [1402.6, 4229.6], "nice": false}},
        "text": {"field": "label"}
      }
    },
    {
      "data": {"values": [{"t": "2024-01-29T19:00:00Z", "p": 1681, "label": "Leg one = Leg two"}]},
      "mark": {"type": "text", "font": "Liberation Sans", "fontSize": 10, "fontWeight": "bold", "color": "#5b8def", "align": "center", "baseline": "middle"},
      "encoding": {
        "x": {"field": "t", "type": "temporal", "title": null, "scale": {"type": "utc", "domain": [{"year": 2023, "month": 9, "date": 14, "hours": 12, "utc": true}, {"year": 2024, "month": 4, "date": 30, "hours": 12, "utc": true}]}},
        "y": {"field": "p", "type": "quantitative", "title": null, "scale": {"type": "log", "domain": [1402.6, 4229.6], "nice": false}},
        "text": {"field": "label"}
      }
    },
    {
      "data": {"values": [{"t": "2023-09-16T00:00:00Z", "p": 4112, "label": "Ethereum / U.S. Dollar, 1D, CRYPTO"}]},
      "mark": {"type": "text", "font": "Liberation Sans", "fontSize": 8.7, "color": "#131722", "align": "left", "baseline": "middle"},
      "encoding": {
        "x": {"field": "t", "type": "temporal", "title": null, "scale": {"type": "utc", "domain": [{"year": 2023, "month": 9, "date": 14, "hours": 12, "utc": true}, {"year": 2024, "month": 4, "date": 30, "hours": 12, "utc": true}]}},
        "y": {"field": "p", "type": "quantitative", "title": null, "scale": {"type": "log", "domain": [1402.6, 4229.6], "nice": false}},
        "text": {"field": "label"}
      }
    },
    {
      "data": {"values": [{"t": "2023-09-19T12:00:00Z", "p": 1287, "label": "TradingView"}]},
      "mark": {"type": "text", "font": "Liberation Sans", "fontSize": 10.5, "color": "#131722", "align": "left", "baseline": "middle"},
      "encoding": {
        "x": {"field": "t", "type": "temporal", "title": null, "scale": {"type": "utc", "domain": [{"year": 2023, "month": 9, "date": 14, "hours": 12, "utc": true}, {"year": 2024, "month": 4, "date": 30, "hours": 12, "utc": true}]}},
        "y": {"field": "p", "type": "quantitative", "title": null, "scale": {"type": "log", "domain": [1402.6, 4229.6], "nice": false}},
        "text": {"field": "label"}
      }
    },
    {
      "data": {"values": [{"t": "2023-09-14T18:00:00Z", "p": 1287, "label": "TV"}]},
      "mark": {"type": "text", "font": "DejaVu Sans", "fontSize": 10.5, "fontWeight": "bold", "color": "#131722", "align": "left", "baseline": "middle"},
      "encoding": {
        "x": {"field": "t", "type": "temporal", "title": null, "scale": {"type": "utc", "domain": [{"year": 2023, "month": 9, "date": 14, "hours": 12, "utc": true}, {"year": 2024, "month": 4, "date": 30, "hours": 12, "utc": true}]}},
        "y": {"field": "p", "type": "quantitative", "title": null, "scale": {"type": "log", "domain": [1402.6, 4229.6], "nice": false}},
        "text": {"field": "label"}
      }
    },
    {
      "data": {"values": [
        {"t1": "2024-04-30T12:00:00Z", "t2": "2024-05-11T00:00:00Z", "p1": 3641.6, "p2": 3736.5}
      ]},
      "mark": {"type": "rect", "fill": "#000000"},
      "encoding": {
        "x": {"field": "t1", "type": "temporal", "title": null, "scale": {"type": "utc", "domain": [{"year": 2023, "month": 9, "date": 14, "hours": 12, "utc": true}, {"year": 2024, "month": 4, "date": 30, "hours": 12, "utc": true}]}},
        "x2": {"field": "t2"},
        "y": {"field": "p1", "type": "quantitative", "title": null, "scale": {"type": "log", "domain": [1402.6, 4229.6], "nice": false}},
        "y2": {"field": "p2"}
      }
    },
    {
      "data": {"values": [
        {"t1": "2024-04-30T12:00:00Z", "t2": "2024-05-11T00:00:00Z", "p1": 2974.7, "p2": 3052.3}
      ]},
      "mark": {"type": "rect", "fill": "#ffffff", "stroke": "#131722", "strokeWidth": 1},
      "encoding": {
        "x": {"field": "t1", "type": "temporal", "title": null, "scale": {"type": "utc", "domain": [{"year": 2023, "month": 9, "date": 14, "hours": 12, "utc": true}, {"year": 2024, "month": 4, "date": 30, "hours": 12, "utc": true}]}},
        "x2": {"field": "t2"},
        "y": {"field": "p1", "type": "quantitative", "title": null, "scale": {"type": "log", "domain": [1402.6, 4229.6], "nice": false}},
        "y2": {"field": "p2"}
      }
    },
    {
      "data": {"values": [{"t": "2024-05-06T03:00:00Z", "p": 3688.71, "label": "3,688.71"}]},
      "mark": {"type": "text", "font": "Liberation Sans", "fontSize": 9, "fontWeight": "bold", "color": "#ffffff", "align": "center", "baseline": "middle"},
      "encoding": {
        "x": {"field": "t", "type": "temporal", "title": null, "scale": {"type": "utc", "domain": [{"year": 2023, "month": 9, "date": 14, "hours": 12, "utc": true}, {"year": 2024, "month": 4, "date": 30, "hours": 12, "utc": true}]}},
        "y": {"field": "p", "type": "quantitative", "title": null, "scale": {"type": "log", "domain": [1402.6, 4229.6], "nice": false}},
        "text": {"field": "label"}
      }
    },
    {
      "data": {"values": [{"t": "2024-05-06T03:00:00Z", "p": 3013.25, "label": "3,013.25"}]},
      "mark": {"type": "text", "font": "Liberation Sans", "fontSize": 9, "color": "#131722", "align": "center", "baseline": "middle"},
      "encoding": {
        "x": {"field": "t", "type": "temporal", "title": null, "scale": {"type": "utc", "domain": [{"year": 2023, "month": 9, "date": 14, "hours": 12, "utc": true}, {"year": 2024, "month": 4, "date": 30, "hours": 12, "utc": true}]}},
        "y": {"field": "p", "type": "quantitative", "title": null, "scale": {"type": "log", "domain": [1402.6, 4229.6], "nice": false}},
        "text": {"field": "label"}
      }
    }
  ],
  "config": {
    "view": {"stroke": null},
    "axis": {"domain": false, "ticks": false, "grid": false, "labelFont": "Liberation Sans", "labelColor": "#131722"}
  }
}
